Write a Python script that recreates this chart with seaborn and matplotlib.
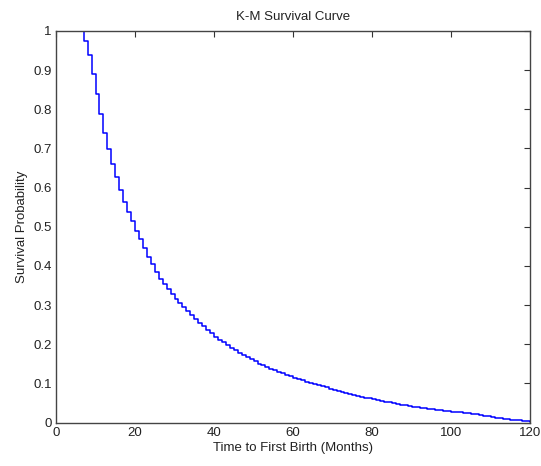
import numpy as np
import pandas as pd
import seaborn as sns
import matplotlib
matplotlib.use("Agg")
import matplotlib.pyplot as plt

# Kaplan-Meier estimate (month -> survival after drop)
months = list(range(7, 121))
survival = [
    0.974, 0.939, 0.889, 0.840, 0.789, 0.740, 0.699, 0.661, 0.627, 0.594,
    0.564, 0.538, 0.515, 0.490, 0.468, 0.445, 0.424, 0.404, 0.385, 0.368,
    0.353, 0.340, 0.328, 0.317, 0.305, 0.296, 0.285, 0.275, 0.265, 0.255,
    0.246, 0.237, 0.228, 0.219, 0.212, 0.205, 0.198, 0.191, 0.185, 0.179,
    0.173, 0.168, 0.162, 0.157, 0.151, 0.147, 0.142, 0.138, 0.134, 0.130,
    0.126, 0.122, 0.118, 0.115, 0.111, 0.108, 0.105, 0.102, 0.099, 0.096,
    0.093, 0.090, 0.087, 0.084, 0.081, 0.078, 0.076, 0.073, 0.071, 0.069,
    0.066, 0.064, 0.062, 0.060, 0.058, 0.056, 0.054, 0.052, 0.050, 0.048,
    0.046, 0.044, 0.042, 0.041, 0.039, 0.038, 0.037, 0.035, 0.034, 0.033,
    0.032, 0.030, 0.029, 0.028, 0.027, 0.026, 0.025, 0.024, 0.022, 0.021,
    0.020, 0.018, 0.017, 0.015, 0.013, 0.012, 0.010, 0.009, 0.008, 0.007,
    0.006, 0.005, 0.004, 0.002,
]
x_ticks = [0, 20, 40, 60, 80, 100, 120]
y_ticks = [0, 0.1, 0.2, 0.3, 0.4, 0.5, 0.6, 0.7, 0.8, 0.9, 1]
y_labels = ["0", "0.1", "0.2", "0.3", "0.4", "0.5", "0.6", "0.7", "0.8", "0.9", "1"]

df = pd.DataFrame({"t": [0] + months, "s": [1.0] + survival})

sns.set_style("white")
plt.rcParams["font.family"] = ["Liberation Sans", "DejaVu Sans"]

fig = plt.figure(figsize=(5.41, 4.66), dpi=100)
ax = fig.add_axes([0.1035, 0.093, 0.8765, 0.8405])

sns.lineplot(data=df, x="t", y="s", estimator=None, sort=False,
             drawstyle="steps-post", color="#0000ff", linewidth=1.1, ax=ax)

ax.set_xlim(0, 120)
ax.set_ylim(0, 1)
ax.set_xticks(x_ticks)
ax.set_xticklabels([str(v) for v in x_ticks])
ax.set_yticks(y_ticks)
ax.set_yticklabels(y_labels)
ax.tick_params(direction="in", length=4, width=0.8, colors="#333333",
               labelsize=9.5, top=True, right=True, labelcolor="#222222", pad=3)
for sp in ax.spines.values():
    sp.set_color("#444444")
    sp.set_linewidth(1.0)

ax.set_title("K-M Survival Curve", fontsize=9.5, color="#222222", pad=8)
ax.set_xlabel("Time to First Birth (Months)", fontsize=9.5, color="#222222", labelpad=2)
ax.set_ylabel("Survival Probability", fontsize=9.5, color="#222222", labelpad=4)

fig.savefig("out.png", dpi=100)
